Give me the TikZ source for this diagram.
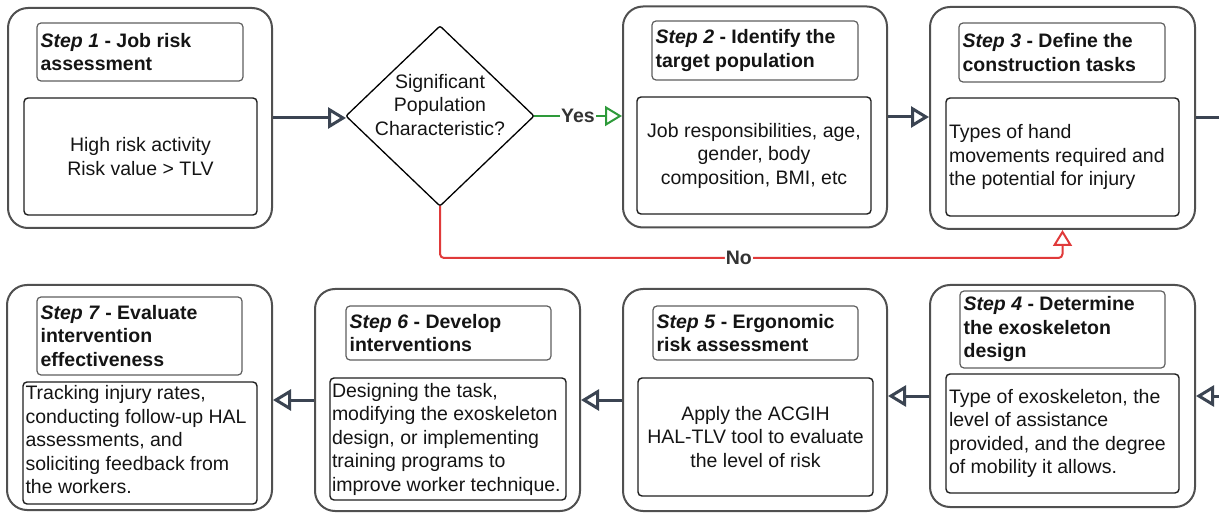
\documentclass[tikz,border=0pt]{standalone}
\usepackage{fontspec}
\setmainfont{Liberation Sans}
\usetikzlibrary{arrows.meta,calc}
\definecolor{outerc}{HTML}{505050}
\definecolor{titlec}{HTML}{5E5E5E}
\definecolor{bodyc}{HTML}{1E1E1E}
\definecolor{arrowc}{HTML}{3B4452}
\definecolor{greenc}{HTML}{2E9A3A}
\definecolor{redc}{HTML}{E03A3A}
\definecolor{textc}{HTML}{141414}
\definecolor{lblc}{HTML}{333333}
\begin{document}
\begin{tikzpicture}[x=1pt,y=-1pt,
  outer/.style={draw=outerc, line width=2pt, rounded corners=20pt, inner sep=0pt},
  ttlbox/.style={draw=titlec, line width=1.2pt, rounded corners=4pt, inner sep=0pt},
  bodybox/.style={draw=bodyc, line width=1.4pt, rounded corners=4pt, inner sep=0pt, align=center,
    font=\fontsize{19.5pt}{23.5pt}\selectfont, text=textc},
  ttltext/.style={inner sep=0pt, align=left, anchor=west, text=textc,
    font=\fontsize{19.5pt}{23.5pt}\selectfont\bfseries},
  bodytext/.style={inner sep=0pt, align=left, anchor=west, text=textc,
    font=\fontsize{19.5pt}{23.5pt}\selectfont},
  flow/.style={draw=arrowc, line width=3pt, -{Triangle[open, length=18pt, width=21pt]}},
  stub/.style={draw=arrowc, line width=3pt},
  yesline/.style={draw=greenc, line width=2pt, -{Triangle[open, length=17pt, width=20pt]}},
  noline/.style={draw=redc, line width=2pt, rounded corners=4pt, -{Triangle[open, length=16pt, width=19pt]}},
  lbl/.style={fill=white, inner sep=1pt, text=lblc, font=\fontsize{19.5pt}{22pt}\selectfont\bfseries},
  diam/.style={draw=black, line width=1.3pt, rounded corners=2pt},
  dtext/.style={inner sep=0pt, align=center, text=textc, font=\fontsize{19.5pt}{23.5pt}\selectfont}
]
\useasboundingbox (0,0) rectangle (1219,513);

% ---------- Step 1
\node[outer, minimum width=264pt, minimum height=220pt] (o1) at (140,118) {};
\node[ttlbox, minimum width=206pt, minimum height=58pt] (t1) at (140,52) {};
\node[ttltext] (t1x) at ([xshift=4pt]t1.west) {\textit{Step 1} - Job risk\\assessment};
\node[bodybox, minimum width=233pt, minimum height=117pt] (b1) at (140.5,156.5) {High risk activity\\Risk value > TLV};

% ---------- Decision
\coordinate (dl) at (346,116);
\coordinate (dt) at (440,26);
\coordinate (dr) at (534,116);
\coordinate (db) at (440,206);
\draw[diam] (dl) -- (dt) -- (dr) -- (db) -- cycle;
\node[dtext] (d) at (440,105) {Significant\\Population\\Characteristic?};

% ---------- Step 2
\node[outer, minimum width=264pt, minimum height=221pt] (o2) at (755,117) {};
\node[ttlbox, minimum width=206pt, minimum height=59pt] (t2) at (755,50.5) {};
\node[ttltext] (t2x) at ([xshift=4pt]t2.west) {\textit{Step 2} - Identify the\\target population};
\node[bodybox, minimum width=234pt, minimum height=117pt] (b2) at (754,155.5) {Job responsibilities, age,\\gender, body\\composition, BMI, etc};

% ---------- Step 3
\node[outer, minimum width=265pt, minimum height=222pt] (o3) at (1062.5,118) {};
\node[ttlbox, minimum width=206pt, minimum height=59pt] (t3) at (1062,52.5) {};
\node[ttltext] (t3x) at ([xshift=4pt]t3.west) {\textit{Step 3} - Define the\\construction tasks};
\node[bodybox, minimum width=233pt, minimum height=118pt] (b3) at (1062.5,157) {};
\node[bodytext] (b3x) at ([xshift=3.5pt]b3.west) {Types of hand\\movements required and\\the potential for injury};

% ---------- Step 4
\node[outer, minimum width=265pt, minimum height=222pt] (o4) at (1062.5,396) {};
\node[ttlbox, minimum width=205pt, minimum height=77pt] (t4) at (1062.5,329.5) {};
\node[ttltext] (t4x) at ([xshift=4pt]t4.west) {\textit{Step 4} - Determine\\the exoskeleton\\design};
\node[bodybox, minimum width=233pt, minimum height=119pt] (b4) at (1062.5,433.5) {};
\node[bodytext] (b4x) at ([xshift=3.5pt]b4.west) {Type of exoskeleton, the\\level of assistance\\provided, and the degree\\of mobility it allows.};

% ---------- Step 5
\node[outer, minimum width=264pt, minimum height=222pt] (o5) at (755,400) {};
\node[ttlbox, minimum width=205pt, minimum height=54pt] (t5) at (755.5,333) {};
\node[ttltext] (t5x) at ([xshift=4pt]t5.west) {\textit{Step 5} - Ergonomic\\risk assessment};
\node[bodybox, minimum width=235pt, minimum height=118pt] (b5) at (755.5,437) {Apply the ACGIH\\HAL-TLV tool to evaluate\\the level of risk};

% ---------- Step 6
\node[outer, minimum width=265pt, minimum height=222pt] (o6) at (447.5,400) {};
\node[ttlbox, minimum width=205pt, minimum height=54pt] (t6) at (448.5,333) {};
\node[ttltext] (t6x) at ([xshift=4pt]t6.west) {\textit{Step 6} - Develop\\interventions};
\node[bodybox, minimum width=236pt, minimum height=122pt] (b6) at (448,439) {};
\node[bodytext] (b6x) at ([xshift=2.5pt]b6.west) {Designing the task,\\modifying the exoskeleton\\design, or implementing\\training programs to\\improve worker technique.};

% ---------- Step 7
\node[outer, minimum width=265pt, minimum height=225pt] (o7) at (139.5,397.5) {};
\node[ttlbox, minimum width=205pt, minimum height=78pt] (t7) at (139.5,336) {};
\node[ttltext] (t7x) at ([xshift=4pt]t7.west) {\textit{Step 7} - Evaluate\\intervention\\effectiveness};
\node[bodybox, minimum width=234pt, minimum height=122pt] (b7) at (140,443) {};
\node[bodytext] (b7x) at ([xshift=3pt,yshift=3pt]b7.west) {Tracking injury rates,\\conducting follow-up HAL\\assessments, and\\soliciting feedback from\\the workers.};

% ---------- Connectors
\coordinate (r1) at (1219,118);
\coordinate (r2) at (1219,396);
\coordinate (nocorner) at (440,258);

\draw[flow] (o1.east) -- (o1.east -| dl);
\draw[yesline] (dr) -- node[lbl, pos=0.5] (yes) {Yes} (dr -| o2.west);
\draw[flow] (o2.east) -- (o2.east -| o3.west);
\draw[stub] (o3.east) -- (o3.east -| r1);
\draw[noline] (db) -- (nocorner) -- node[lbl, pos=0.48] (no) {No} (nocorner -| o3.south) -- (o3.south);
\draw[flow] (r2) -- (r2 -| o4.east);
\draw[flow] (o4.west) -- (o4.west -| o5.east);
\draw[flow] (o5.west) -- (o5.west -| o6.east);
\draw[flow] (o6.west) -- (o6.west -| o7.east);
\end{tikzpicture}
\end{document}
